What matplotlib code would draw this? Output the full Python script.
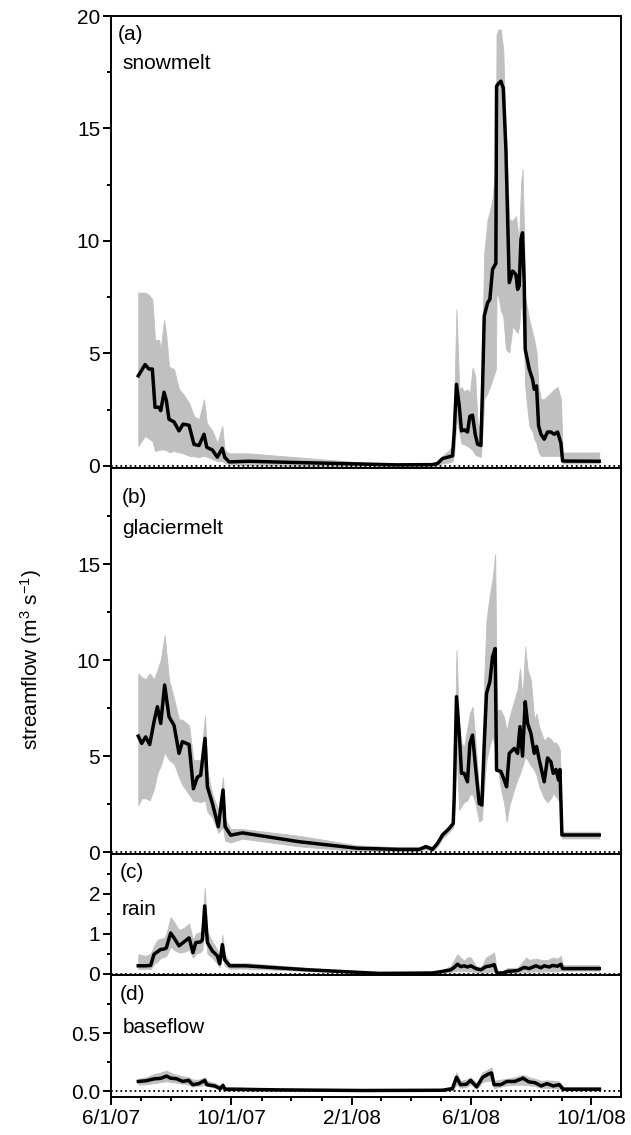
import numpy as np
import pandas as pd
import matplotlib
matplotlib.use('Agg')
import matplotlib.pyplot as plt
import matplotlib.dates as mdates
from matplotlib.ticker import FixedLocator, FuncFormatter, FormatStrFormatter

plt.rcParams['font.family'] = ['Liberation Sans', 'DejaVu Sans']
plt.rcParams['mathtext.fontset'] = 'custom'
plt.rcParams['mathtext.rm'] = 'Liberation Sans'
plt.rcParams['mathtext.it'] = 'Liberation Sans:italic'

START = '2007-06-01'   # day 0 of the day arrays

# ---------------- (a) snowmelt ----------------
day_a = [27.7, 34.6, 38.6, 42, 44.7, 48.8, 50.5, 53.9, 56.2, 58.9, 64, 69.1, 73.2, 79.3, 84.3,
         89.4, 94.5, 97.3, 103, 108, 113, 115.5, 120, 140, 191, 252, 290,
         326.5, 331.6, 336.7, 343.5, 346.9, 348.6, 350.9, 353.7, 356, 358.7, 362.1, 364.5, 367.2,
         369.9, 372.3, 375.7, 377.4, 379.1, 382.5, 384.8, 387.5, 390.9, 391.6, 393.6, 396, 398.4,
         401.1, 404.5, 407.9, 411.3, 413, 414.6, 416.4, 418, 419.7, 420.7, 424.8, 428.2, 429.9,
         432.2, 434.3, 436.7, 440, 443.4, 446.8, 450.2, 453.6, 457, 458.7, 495.9]
mean_a = [4.0, 4.5, 4.3, 4.3, 2.6, 2.6, 2.45, 3.27, 2.9, 2.07, 1.95, 1.55, 1.85, 1.8, 0.95,
          0.9, 1.4, 0.82, 0.7, 0.38, 0.78, 0.38, 0.17, 0.2, 0.14, 0.08, 0.04,
          0.05, 0.1, 0.32, 0.4, 0.44, 1.5, 3.62, 2.66, 1.55, 1.6, 1.5, 2.2, 2.25,
          1.4, 0.96, 0.9, 3.55, 6.66, 7.25, 7.4, 8.73, 9.0, 16.88, 17.0, 17.1, 16.8,
          14.07, 8.14, 8.66, 8.5, 7.84, 8.0, 10.07, 10.36, 8.14, 5.18, 4.29, 3.84, 3.4,
          3.55, 1.77, 1.4, 1.18, 1.5, 1.5, 1.4, 1.5, 1.0, 0.21, 0.2]
lo_a = [0.88, 1.33, 1.2, 1.1, 0.66, 0.7, 0.72, 0.72, 0.7, 0.6, 0.65, 0.6, 0.55, 0.44, 0.42,
        0.38, 0.45, 0.4, 0.3, 0.2, 0.2, 0.13, 0.05, 0.02, 0.0, 0.0, 0.0,
        0.0, 0.02, 0.1, 0.15, 0.2, 0.5, 2.07, 1.5, 1.0, 0.95, 0.88, 0.8, 0.7,
        0.5, 0.44, 0.4, 1.5, 2.96, 3.25, 3.5, 3.84, 4.3, 7.7, 7.5, 6.9, 6.66,
        5.18, 5.03, 6.2, 6.0, 5.9, 6.2, 7.4, 6.5, 5.18, 3.5, 1.77, 1.5, 1.2,
        1.0, 0.6, 0.44, 0.44, 0.44, 0.44, 0.44, 0.44, 0.44, 0.1, 0.1]
hi_a = [7.7, 7.7, 7.6, 7.4, 5.6, 5.6, 5.2, 6.5, 5.8, 4.4, 4.3, 3.4, 3.2, 2.8, 2.2,
        2.07, 2.96, 1.9, 1.55, 1.0, 1.77, 0.68, 0.55, 0.55, 0.37, 0.15, 0.06,
        0.1, 0.2, 0.44, 0.7, 0.88, 2.96, 6.96, 3.4, 3.5, 3.3, 3.4, 3.2, 4.36,
        4.0, 1.92, 1.5, 6.0, 9.47, 10.96, 11.3, 11.9, 13.5, 19.2, 19.4, 19.4, 18.5,
        14.8, 10.96, 10.9, 11.1, 10.5, 10.1, 12.5, 13.2, 10.0, 7.5, 6.5, 5.9, 5.6,
        5.03, 3.5, 2.96, 2.96, 3.1, 3.25, 3.4, 3.5, 2.96, 0.59, 0.59]

# ---------------- (b) glaciermelt ----------------
day_b = [27.7, 31.2, 35.2, 39.3, 43.7, 47.1, 50.5, 54.5, 58.9, 64, 69.1, 72.5, 79.3, 83.7,
         87.7, 91.1, 95.5, 97.9, 103, 109, 113.8, 115.9, 121.6, 133.5, 191, 250, 292.7, 313,
         319.8, 326.5, 331.6, 336.7, 343.5, 347.6, 348.6, 350.9, 353.7, 356, 358.7, 362.1,
         364.5, 367.2, 369.9, 374, 376.7, 379.1, 381.4, 384.8, 387.5, 390.2, 391.6, 392.6,
         396, 399.4, 401.8, 404.5, 409.6, 413, 415.4, 418, 420.7, 423.1, 426.5, 429.9, 432.2,
         435, 440, 443.4, 446.8, 449.2, 451.9, 454.6, 456, 458, 495.9]
mean_b = [6.04, 5.66, 6.0, 5.6, 6.79, 7.57, 6.7, 8.7, 7.05, 6.6, 5.14, 5.75, 5.6, 3.3,
          3.9, 4.0, 5.92, 3.4, 2.53, 1.32, 3.23, 1.32, 0.88, 1.0, 0.54, 0.2, 0.14, 0.14,
          0.28, 0.14, 0.45, 0.89, 1.23, 1.49, 2.88, 8.09, 6.18, 4.1, 4.1, 3.66,
          5.66, 6.09, 4.62, 2.53, 2.45, 5.66, 8.26, 8.87, 10.17, 10.6, 4.27, 4.25,
          4.2, 3.75, 3.4, 5.14, 5.4, 5.14, 6.53, 5.0, 7.83, 6.7, 6.18, 5.14, 5.5,
          4.79, 3.66, 4.9, 4.7, 4.1, 4.3, 3.75, 4.3, 0.89, 0.89]
lo_b = [2.45, 2.8, 2.8, 2.7, 3.3, 4.1, 4.5, 5.2, 4.8, 4.6, 3.9, 3.5, 3.0, 2.65,
        2.65, 2.6, 2.7, 2.1, 1.8, 1.0, 1.3, 0.6, 0.5, 0.7, 0.3, 0.05, 0.05, 0.05,
        0.15, 0.05, 0.3, 0.7, 1.05, 1.3, 2.0, 5.14, 2.19, 2.4, 2.6, 2.7,
        3.0, 3.0, 2.6, 1.58, 1.7, 3.5, 4.79, 5.6, 6.0, 5.5, 4.97, 4.5,
        3.3, 2.5, 1.58, 2.4, 3.3, 3.8, 4.1, 4.5, 4.97, 4.8, 4.5, 4.27, 4.0,
        3.4, 2.8, 2.6, 2.8, 3.06, 2.9, 2.7, 2.7, 0.71, 0.71]
hi_b = [9.3, 9.1, 9.0, 9.3, 9.0, 9.48, 10.0, 11.3, 9.0, 8.0, 6.9, 6.9, 6.6, 4.8,
        4.8, 4.8, 7.1, 4.2, 3.0, 2.2, 3.9, 1.7, 1.2, 1.2, 0.85, 0.35, 0.25, 0.25,
        0.4, 0.3, 0.6, 1.0, 1.4, 1.6, 4.0, 10.5, 6.5, 5.66, 5.5, 6.5,
        7.22, 7.57, 6.0, 3.06, 3.3, 9.0, 12.1, 13.4, 14.2, 15.5, 9.0, 7.4,
        7.4, 7.0, 6.3, 7.0, 7.9, 8.5, 9.57, 8.0, 10.7, 9.5, 8.96, 6.9, 7.2,
        6.5, 5.8, 6.0, 5.9, 5.7, 5.7, 5.5, 5.3, 1.06, 1.06]

# ---------------- (c) rain ----------------
day_c = [27.7, 35.2, 40.3, 43.7, 47.1, 50.5, 53.9, 56.2, 60.6, 64, 69.1, 74.2, 79.3, 83.3,
         86.1, 91.1, 92.8, 95.2, 97.9, 103, 108, 110.4, 113.1, 115.5, 120.6, 136.9, 200, 272.4,
         326.5, 336.7, 345.2, 348.6, 351.9, 355.3, 358.7, 362.1, 365.5, 370.6, 375.7, 380.8,
         385.8, 389.2, 392, 397.7, 402.8, 413, 419.7, 421.4, 424.8, 431.6, 436.7, 440, 445.1,
         448.5, 453.6, 457, 458.7, 495.9]
mean_c = [0.2, 0.2, 0.21, 0.49, 0.55, 0.61, 0.62, 0.65, 1.02, 0.9, 0.7, 0.8, 0.9, 0.53,
          0.78, 0.8, 0.85, 1.7, 0.78, 0.57, 0.45, 0.25, 0.73, 0.35, 0.2, 0.2, 0.1, 0.01,
          0.02, 0.06, 0.1, 0.16, 0.24, 0.18, 0.2, 0.17, 0.2, 0.13, 0.1, 0.18,
          0.2, 0.23, 0.02, 0.02, 0.06, 0.08, 0.16, 0.15, 0.13, 0.2, 0.15, 0.2, 0.17,
          0.21, 0.19, 0.24, 0.13, 0.13]
lo_c = [0.12, 0.12, 0.12, 0.25, 0.3, 0.4, 0.42, 0.45, 0.69, 0.6, 0.53, 0.55, 0.6, 0.4,
        0.5, 0.55, 0.6, 1.26, 0.5, 0.4, 0.26, 0.16, 0.45, 0.2, 0.13, 0.13, 0.07, 0.0,
        0.0, 0.02, 0.05, 0.06, 0.08, 0.07, 0.07, 0.06, 0.06, 0.04, 0.02, 0.05,
        0.05, 0.06, 0.0, 0.0, 0.02, 0.03, 0.05, 0.05, 0.05, 0.06, 0.05, 0.06, 0.06,
        0.06, 0.06, 0.08, 0.08, 0.08]
hi_c = [0.49, 0.45, 0.5, 0.7, 0.85, 0.88, 0.9, 1.0, 1.42, 1.3, 1.1, 1.15, 1.26, 0.85,
        1.0, 1.05, 1.1, 2.15, 1.05, 0.8, 0.6, 0.4, 0.98, 0.5, 0.27, 0.27, 0.15, 0.02,
        0.04, 0.1, 0.2, 0.35, 0.49, 0.4, 0.33, 0.41, 0.41, 0.2, 0.15, 0.41,
        0.48, 0.53, 0.06, 0.07, 0.15, 0.15, 0.35, 0.41, 0.35, 0.38, 0.35, 0.34, 0.36,
        0.41, 0.38, 0.45, 0.22, 0.22]

# ---------------- (d) baseflow ----------------
day_d = [27.8, 36, 44.2, 50.3, 56.4, 60.5, 66.7, 72.8, 78.9, 83, 89.2, 95.3, 97.3, 105.5,
         110.8, 113.7, 115.7, 121.9, 173, 254.8, 336.6, 346.8, 350.9, 355, 361.1, 365.2,
         371.4, 377.5, 383.6, 386.5, 389, 395.9, 402, 410.2, 418.4, 424.5, 430.7, 436.8,
         442.9, 449.1, 455.2, 459.3, 496.1]
mean_d = [0.084, 0.09, 0.107, 0.11, 0.13, 0.112, 0.107, 0.084, 0.093, 0.056, 0.065, 0.093,
          0.056, 0.045, 0.022, 0.05, 0.017, 0.017, 0.011, 0.006, 0.008, 0.022, 0.12, 0.056,
          0.06, 0.093, 0.037, 0.12, 0.149, 0.157, 0.056, 0.056, 0.084, 0.084, 0.112, 0.08,
          0.073, 0.045, 0.065, 0.045, 0.056, 0.017, 0.017]
lo_d = [0.056, 0.06, 0.07, 0.079, 0.085, 0.08, 0.073, 0.065, 0.056, 0.04, 0.045, 0.056,
        0.045, 0.03, 0.01, 0.02, 0.005, 0.005, 0.003, 0.002, 0.003, 0.01, 0.056, 0.03,
        0.035, 0.06, 0.02, 0.079, 0.09, 0.093, 0.025, 0.04, 0.05, 0.055, 0.056, 0.05,
        0.045, 0.03, 0.028, 0.025, 0.02, 0.006, 0.006]
hi_d = [0.107, 0.12, 0.15, 0.16, 0.177, 0.16, 0.14, 0.13, 0.12, 0.1, 0.1, 0.12,
        0.09, 0.07, 0.05, 0.07, 0.035, 0.035, 0.022, 0.015, 0.02, 0.04, 0.163, 0.09,
        0.1, 0.12, 0.07, 0.163, 0.19, 0.205, 0.09, 0.1, 0.107, 0.12, 0.14, 0.12,
        0.107, 0.09, 0.093, 0.09, 0.084, 0.037, 0.037]

panel_letters = ['(a)', '(b)', '(c)', '(d)']
panel_names = ['snowmelt', 'glaciermelt', 'rain', 'baseflow']
ylabel = 'streamflow (m$^{3}$ s$^{\\mathregular{-1}}$)'

# ---------------- figure ----------------
W, H = 631, 1135
fig = plt.figure(figsize=(W / 100, H / 100), dpi=100)
LEFT, RIGHT = 111, 621
edges = [(16, 468), (468, 854), (854, 975), (975, 1097)]
ylims = [(-0.1, 20), (-0.1, 20), (-0.03, 3), (-0.05, 1.0)]
majors = [[0, 5, 10, 15, 20], [0, 5, 10, 15], [0, 1, 2], [0.0, 0.5]]
minors = [[2.5, 7.5, 12.5, 17.5], [2.5, 7.5, 12.5, 17.5], [0.5, 1.5, 2.5], [0.25, 0.75]]
# text offsets (px): (letter dx, letter dy, name dx, name dy) from top-left
txt_off = [(7, 24, 11, 53), (11, 35, 11, 66), (9, 24, 11, 61), (9, 25, 12, 58)]

series = [(day_a, mean_a, lo_a, hi_a), (day_b, mean_b, lo_b, hi_b),
          (day_c, mean_c, lo_c, hi_c), (day_d, mean_d, lo_d, hi_d)]

t0 = pd.Timestamp(START)
xmin, xmax = pd.Timestamp('2007-06-01'), pd.Timestamp('2008-10-31')
fs = 15
GREY = '#c0c0c0'
SPW = 1.4

def fmt_date(x, pos):
    d = mdates.num2date(x)
    return f"{d.month}/{d.day}/{d:%y}"

for i, ((top, bot), (day, mean, lo, hi)) in enumerate(zip(edges, series)):
    ax = fig.add_axes([LEFT / W, 1 - bot / H, (RIGHT - LEFT) / W, (bot - top) / H])
    t = t0 + pd.to_timedelta(np.asarray(day, dtype=float), unit='D')
    ax.fill_between(t, lo, hi, color=GREY, linewidth=0.6, edgecolor=GREY, zorder=1)
    ax.plot(t, mean, color='black', lw=2.5, zorder=3, solid_joinstyle='round')
    ax.axhline(0, color='black', ls=(0, (1, 1.6)), lw=1.3, zorder=2)
    ax.set_xlim(xmin, xmax)
    ax.set_ylim(*ylims[i])
    ax.yaxis.set_major_locator(FixedLocator(majors[i]))
    ax.yaxis.set_minor_locator(FixedLocator(minors[i]))
    if i == 3:
        ax.yaxis.set_major_formatter(FormatStrFormatter('%.1f'))
    else:
        ax.yaxis.set_major_formatter(FormatStrFormatter('%d'))
    ax.xaxis.set_major_locator(mdates.MonthLocator(bymonth=[2, 6, 10]))
    ax.xaxis.set_minor_locator(mdates.MonthLocator())
    ax.xaxis.set_major_formatter(FuncFormatter(fmt_date))
    ax.tick_params(axis='both', which='major', direction='out', length=5.8, width=SPW,
                   labelsize=fs, pad=2, color='black')
    ax.tick_params(axis='both', which='minor', direction='out', length=3.2, width=SPW,
                   color='black')
    ax.tick_params(axis='x', which='major', pad=3)
    if i < 3:
        ax.tick_params(axis='x', labelbottom=False)
    for s in ax.spines.values():
        s.set_linewidth(SPW)
        s.set_zorder(4)
    ldx, ldy, ndx, ndy = txt_off[i]
    ax.annotate(panel_letters[i], xy=(0, 1), xycoords='axes fraction',
                xytext=(ldx * 0.72, -ldy * 0.72), textcoords='offset points',
                ha='left', va='baseline', fontsize=fs)
    ax.annotate(panel_names[i], xy=(0, 1), xycoords='axes fraction',
                xytext=(ndx * 0.72, -ndy * 0.72), textcoords='offset points',
                ha='left', va='baseline', fontsize=fs)

fig.text(31 / W, 1 - 659 / H, ylabel, rotation=90, ha='center', va='center', fontsize=fs)

fig.savefig('out.png', dpi=100)
